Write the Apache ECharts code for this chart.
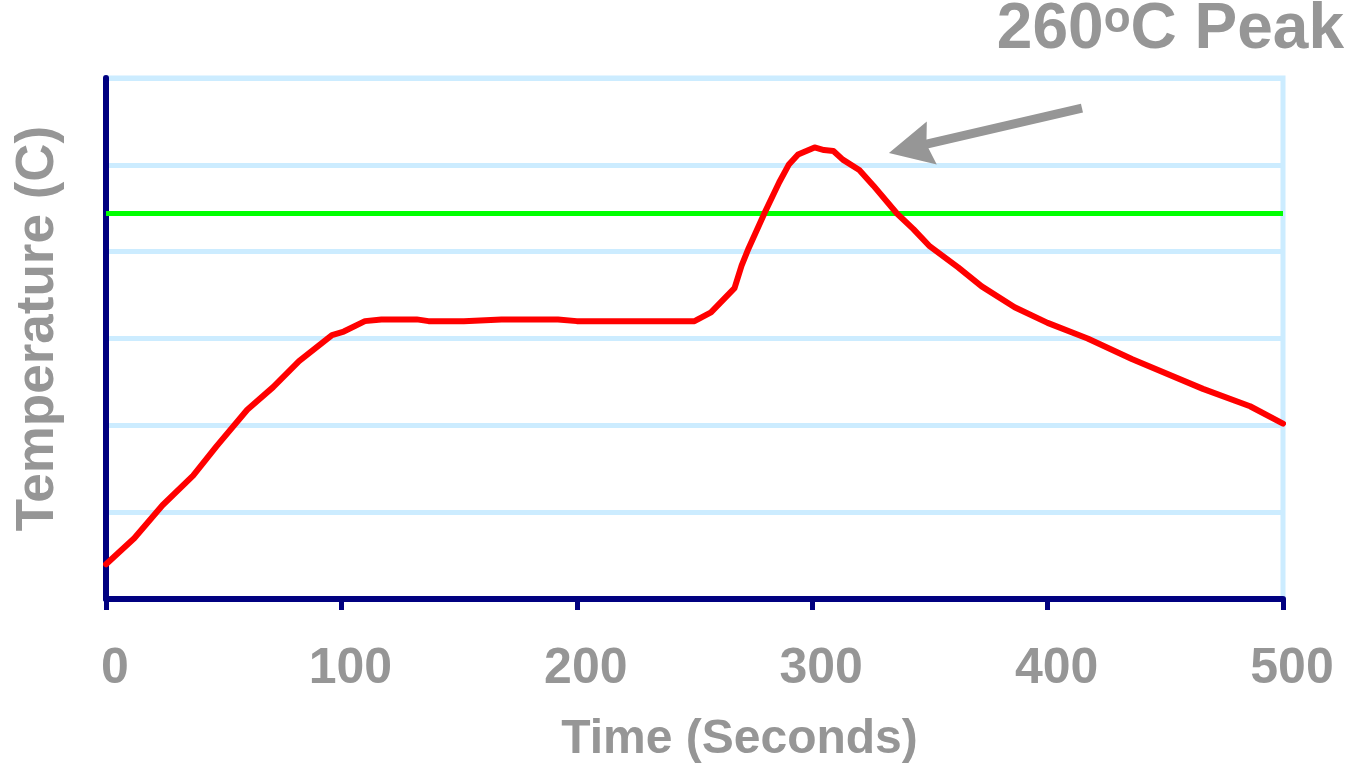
<!DOCTYPE html>
<html>
<head>
<meta charset="utf-8">
<script src="https://cdn.jsdelivr.net/npm/echarts@6/dist/echarts.min.js"></script>
<style>
html,body{margin:0;padding:0;background:#fff;}
#chart{width:1351px;height:766px;}
</style>
</head>
<body>
<div id="chart"></div>
<script>
// Reflow profile: time (s) and temperature (C)
const timeSec = [0, 12, 24, 37, 47, 60, 71, 82, 96, 101, 110, 117, 132, 137, 146, 152, 168, 192, 200, 250, 257, 267, 270, 273, 280, 286, 290, 294, 301, 305, 309, 313, 320, 326, 336, 343, 350, 362, 372, 386, 400, 417, 436, 466, 486, 500];
const tempC   = [20, 35, 54, 71, 88, 109, 122, 137, 152, 154, 160, 161, 161, 160, 160, 160, 161, 161, 160, 160, 165, 179, 192, 202, 223, 240, 250, 256, 260, 258.5, 258, 253, 247, 238, 222, 213, 203, 191, 180, 168, 159, 150, 138, 121, 111, 101];
const liquidusTemp = 222;
const xTicks = [0, 100, 200, 300, 400, 500];
const arrowFrom = [414.6, 282.7];
const arrowTo = [341.7, 259.7];
const titleParts = ['260', 'o', 'C Peak'];

const gray = '#969696';
const navy = '#000080';
const grid = '#CCECFF';
const font = 'Arial, "Liberation Sans", sans-serif';

const chart = echarts.init(document.getElementById('chart'));
chart.setOption({
  animation: false,
  backgroundColor: '#fff',
  title: {
    text: '{a|' + titleParts[0] + '}{s|' + titleParts[1] + '}{a|' + titleParts[2] + '}',
    right: 2,
    top: -7,
    textStyle: {
      rich: {
        a: {fontFamily: font, fontWeight: 'bold', fontSize: 64, color: gray},
        s: {fontFamily: font, fontWeight: 'bold', fontSize: 44, lineHeight: 30, color: gray, verticalAlign: 'top'}
      }
    }
  },
  grid: {
    left: 106, right: 68, top: 78, bottom: 167,
    containLabel: false,
    outerBoundsMode: 'none',
    show: true,
    borderColor: grid,
    borderWidth: 5
  },
  xAxis: {
    type: 'value',
    min: 0, max: 500, interval: 100,
    name: 'Time (Seconds)',
    nameLocation: 'middle',
    nameGap: 141,
    nameTextStyle: {fontFamily: font, fontWeight: 'bold', fontSize: 48, color: gray, verticalAlign: 'middle', padding: [0, 0, 0, 90]},
    axisLine: {show: true, lineStyle: {color: navy, width: 6}},
    axisTick: {show: true, length: 11, lineStyle: {color: navy, width: 5}},
    splitLine: {show: false},
    axisLabel: {
      fontFamily: font, fontWeight: 'bold', fontSize: 50, color: gray,
      margin: 70, verticalAlign: 'middle', padding: [0, 0, 0, 18],
      customValues: xTicks,
      formatter: v => String(v)
    }
  },
  yAxis: {
    type: 'value',
    min: 0, max: 300, interval: 50,
    name: 'Temperature (C)',
    nameLocation: 'middle',
    nameGap: 68,
    nameRotate: 90,
    nameTextStyle: {fontFamily: font, fontWeight: 'bold', fontSize: 53, color: gray, verticalAlign: 'middle', padding: [0, 0, 0, 20]},
    axisLine: {show: true, lineStyle: {color: navy, width: 6}},
    axisTick: {show: false},
    axisLabel: {show: false},
    splitLine: {show: true, lineStyle: {color: grid, width: 5}}
  },
  series: [
    {
      type: 'line',
      data: timeSec.map((t, i) => [t, tempC[i]]),
      showSymbol: false,
      smooth: false,
      lineStyle: {color: '#FF0000', width: 6, join: 'round', cap: 'round'},
      z: 5,
      markLine: {
        silent: true,
        symbol: ['none', 'none'],
        label: {show: false},
        data: [{yAxis: liquidusTemp, lineStyle: {color: '#00FF00', width: 5, type: 'solid'}}],
        z: 3
      }
    },
    {
      type: 'line',
      data: [],
      markLine: {
        silent: true,
        symbol: ['none', 'path://M10,0L20,24L10,21L0,24Z'],
        symbolSize: [44, 44],
        label: {show: false},
        lineStyle: {color: gray, width: 9, type: 'solid', opacity: 1},
        itemStyle: {color: gray},
        data: [[{coord: arrowFrom}, {coord: arrowTo}]]
      }
    }
  ]
});
</script>
</body>
</html>
